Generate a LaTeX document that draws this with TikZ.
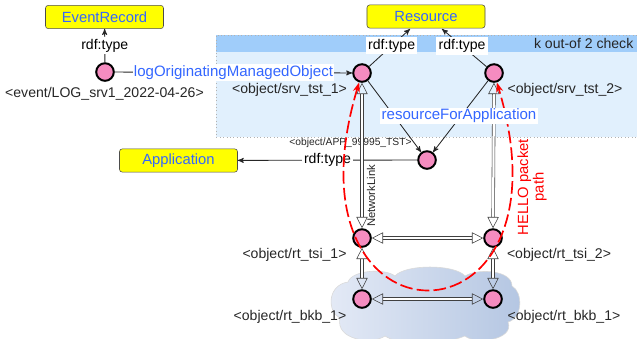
\documentclass[tikz,border=0pt]{standalone}
\usepackage{fontspec}
\setmainfont{Liberation Sans}
\usetikzlibrary{arrows,arrows.meta,calc,positioning}
\definecolor{nodepink}{RGB}{245,140,192}
\definecolor{classyellow}{RGB}{255,255,0}
\definecolor{propblue}{RGB}{51,102,255}
\definecolor{bandstrip}{RGB}{160,205,250}
\definecolor{bandbody}{RGB}{225,240,253}
\definecolor{cloudleft}{RGB}{228,234,246}
\definecolor{cloudright}{RGB}{180,198,226}
\tikzset{
>=stealth',
  instance/.style={
    circle,
    draw=black, line width=1.4pt,
    fill=nodepink,
    minimum size=0.44cm,
    inner sep=0pt},
  class/.style={
    rectangle,
    rounded corners=2pt,
    draw=black!70,
    fill=classyellow,
    minimum width=2.95cm,
    minimum height=0.58cm,
    font=\fontsize{10.5}{12}\selectfont,
    text=propblue},
  iri/.style={font=\fontsize{10}{12}\selectfont, text=black!85, inner sep=1pt},
  prop/.style={font=\fontsize{10.7}{12}\selectfont, text=propblue, fill=white, inner sep=1pt},
  typelbl/.style={font=\fontsize{10}{12}\selectfont, fill=white, inner sep=1.5pt},
  edge/.style={draw=black!85, semithick},
  link/.style={draw=black!75, double=white, double distance=1.6pt, thin,
    {Triangle[open,length=8pt,width=8pt]}-{Triangle[open,length=8pt,width=8pt]}},
}

\begin{document}
\begin{tikzpicture}[
    x=0.025cm, y=-0.025cm,
    hello/.style={red, line width=1.2pt, dash pattern=on 9pt off 3pt,
      {Stealth[length=7pt,width=5pt]}-{Stealth[length=7pt,width=5pt]}},
    hellolbl/.style={text=red, font=\fontsize{10.5}{11}\selectfont, align=center, rotate=90}
    ]
    \useasboundingbox (0,0) rectangle (637,338);

    % k out of 2 band
    \fill[bandbody] (216,35) rectangle (640,137);
    \fill[bandstrip] (216,35) rectangle (640,52);
    \draw[gray!60, dotted] (640,35) -- (216,35) -- (216,137) -- (640,137);
    \node[iri, anchor=east] (kcheck) at (635,43) {k out-of 2 check};

    % backbone cloud
    \path[draw=gray!30, left color=cloudleft, right color=cloudright]
      (340,318) .. controls (327,312) and (327,285) .. (348,282)
      .. controls (352,270) and (385,268) .. (395,276)
      .. controls (405,264) and (455,264) .. (465,276)
      .. controls (478,268) and (512,270) .. (512,286)
      .. controls (523,292) and (523,318) .. (508,322)
      .. controls (515,340) and (475,345) .. (465,336)
      .. controls (440,346) and (400,346) .. (385,336)
      .. controls (372,345) and (335,340) .. (340,318) -- cycle;

    % classes
    \node[class] (evrec) at (104.5,17) {EventRecord};
    \node[class] (res) at (426,16.5) {Resource};
    \node[class] (app) at (178.5,160.5) {Application};
    \coordinate (res1) at (410,29);
    \coordinate (res2) at (442,29);

    % instances
    \node[instance] (ev) at (105,72) {};
    \node[instance] (srv1) at (362,73) {};
    \node[instance] (srv2) at (494,73) {};
    \node[instance] (appinst) at (427,160) {};
    \node[instance] (tsi1) at (362,238) {};
    \node[instance] (tsi2) at (493,238) {};
    \node[instance] (bkb1) at (362,299) {};
    \node[instance] (bkb2) at (493,299) {};

    \node[iri] (evlbl) at (104.5,94) {<event/LOG\_srv1\_2022-04-26>};
    \node[iri] (srv1lbl) at (289.5,90) {<object/srv\_tst\_1>};
    \node[iri] (srv2lbl) at (565,90) {<object/srv\_tst\_2>};
    \node[iri, font=\fontsize{7.3}{8}\selectfont] (applbl) at (350.5,143) {<object/APP\_99995\_TST>};
    \node[iri] (tsi1lbl) at (294.5,255) {<object/rt\_tsi\_1>};
    \node[iri] (tsi2lbl) at (559,255) {<object/rt\_tsi\_2>};
    \node[iri] (bkb1lbl) at (290,317) {<object/rt\_bkb\_1>};
    \node[iri] (bkb2lbl) at (564,317) {<object/rt\_bkb\_1>};

    % properties
    \draw[edge, ->] (ev) -- node[typelbl] {rdf:type} (evrec);
    \draw[edge, ->] (ev) -- node[prop] {logOriginatingManagedObject} (srv1);
    \draw[edge, ->] (srv1) -- node[typelbl, pos=0.55] {rdf:type} (res1);
    \draw[edge, ->] (srv2) -- node[typelbl, pos=0.55] {rdf:type} (res2);
    \draw[edge, ->] (appinst) -- node[typelbl] {rdf:type} (app);
    \draw[edge, ->] (srv1) -- (appinst);
    \draw[edge, ->] (srv2) -- (appinst);

    % network links
    \draw[link] (srv1) -- (tsi1);
    \draw[link] (srv2) -- (tsi2);
    \draw[link] (tsi1) -- (tsi2);
    \draw[link] (tsi1) -- (bkb1);
    \draw[link] (tsi2) -- (bkb2);
    \draw[link] (bkb1) -- (bkb2);
    \node[iri, rotate=90, font=\fontsize{8}{9}\selectfont] (nlink) at (371,196) {NetworkLink};

    % HELLO path
    \draw[hello] (srv1) .. controls (276,358) and (580,358) .. (srv2);
    \node[hellolbl] (hellotxt) at (532,187) {HELLO packet\\path};

    \node[prop] (rfa) at (459,116) {resourceForApplication};

\end{tikzpicture}
\end{document}
